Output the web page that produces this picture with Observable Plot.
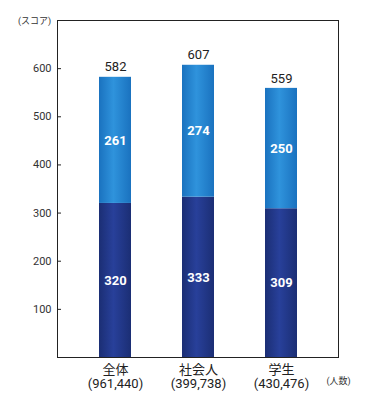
<!DOCTYPE html>
<html>
<head>
<meta charset="utf-8">
<script src="https://cdn.jsdelivr.net/npm/d3@7"></script>
<script src="https://cdn.jsdelivr.net/npm/@observablehq/plot@0.6"></script>
<style>
  html, body { margin: 0; padding: 0; background: #fff; }
  #chart svg { display: block; }
</style>
</head>
<body>
<div id="chart"></div>
<script>
const categories = ["全体", "社会人", "学生"];
const counts = ["961,440", "399,738", "430,476"];
const lowerScores = [320, 333, 309];
const upperScores = [261, 274, 250];
const totals = [582, 607, 559];
const yTicks = [100, 200, 300, 400, 500, 600];

const rows = categories.map((c, i) => ({
  cat: c,
  label: c + "\n(" + counts[i] + ")",
  lower: lowerScores[i],
  upper: upperScores[i],
  total: totals[i]
}));

const FONT = "Roboto, 'Noto Sans CJK JP', sans-serif";

const svg = Plot.plot({
  width: 384,
  height: 414,
  marginLeft: 57,
  marginRight: 46,
  marginTop: 20,
  marginBottom: 57,
  style: { fontFamily: FONT, background: "#fff", color: "#333" },
  x: { domain: categories, paddingInner: 0.62, paddingOuter: 0.49, label: null },
  y: { domain: [0, 700], label: null },
  marks: [
    Plot.rectY(rows, { x: "cat", y1: 0, y2: "lower", fill: "url(#gradDark)" }),
    Plot.rectY(rows, { x: "cat", y1: "lower", y2: "total", fill: "url(#gradLight)" }),
    Plot.frame({ stroke: "#222", strokeWidth: 1 }),
    Plot.axisY(yTicks, { tickSize: 0, tickPadding: 6, fontSize: 11, fill: "#333" }),
    Plot.tickY(yTicks, { y: d => d, stroke: "#222", insetRight: 277, frameAnchor: "left" }),
    Plot.axisX({ tickSize: 0, tickPadding: 6, fontSize: 13, fill: "#222", lineHeight: 1.1,
      tickFormat: (d) => { const r = rows.find(o => o.cat === d); return r.label; } }),
    Plot.text(rows, { x: "cat", y: "total", text: d => String(d.total), dy: -10, fontSize: 13, fill: "#222" }),
    Plot.text(rows, { x: "cat", y: d => (d.lower + d.total) / 2, text: d => String(d.upper), fontSize: 13, fontWeight: "bold", fill: "#fff" }),
    Plot.text(rows, { x: "cat", y: d => d.lower / 2, text: d => String(d.lower), fontSize: 13, fontWeight: "bold", fill: "#fff" }),
    Plot.text(["(スコア)"], { frameAnchor: "top-left", textAnchor: "middle", dx: -23, dy: -3, fontSize: 9, fill: "#333" }),
    Plot.text(["(人数)"], { frameAnchor: "bottom-right", textAnchor: "middle", dx: 0, dy: 26, fontSize: 9, fill: "#333" })
  ]
});

const defs = d3.select(svg).insert("defs", ":first-child");
function grad(id, edge, mid) {
  const g = defs.append("linearGradient").attr("id", id).attr("x1", "0").attr("x2", "1").attr("y1", "0").attr("y2", "0");
  g.append("stop").attr("offset", "0%").attr("stop-color", edge);
  g.append("stop").attr("offset", "45%").attr("stop-color", mid);
  g.append("stop").attr("offset", "100%").attr("stop-color", edge);
}
grad("gradLight", "#1a72bf", "#2f93dc");
grad("gradDark", "#1b2e74", "#28409a");

document.getElementById("chart").appendChild(svg);
</script>
</body>
</html>
